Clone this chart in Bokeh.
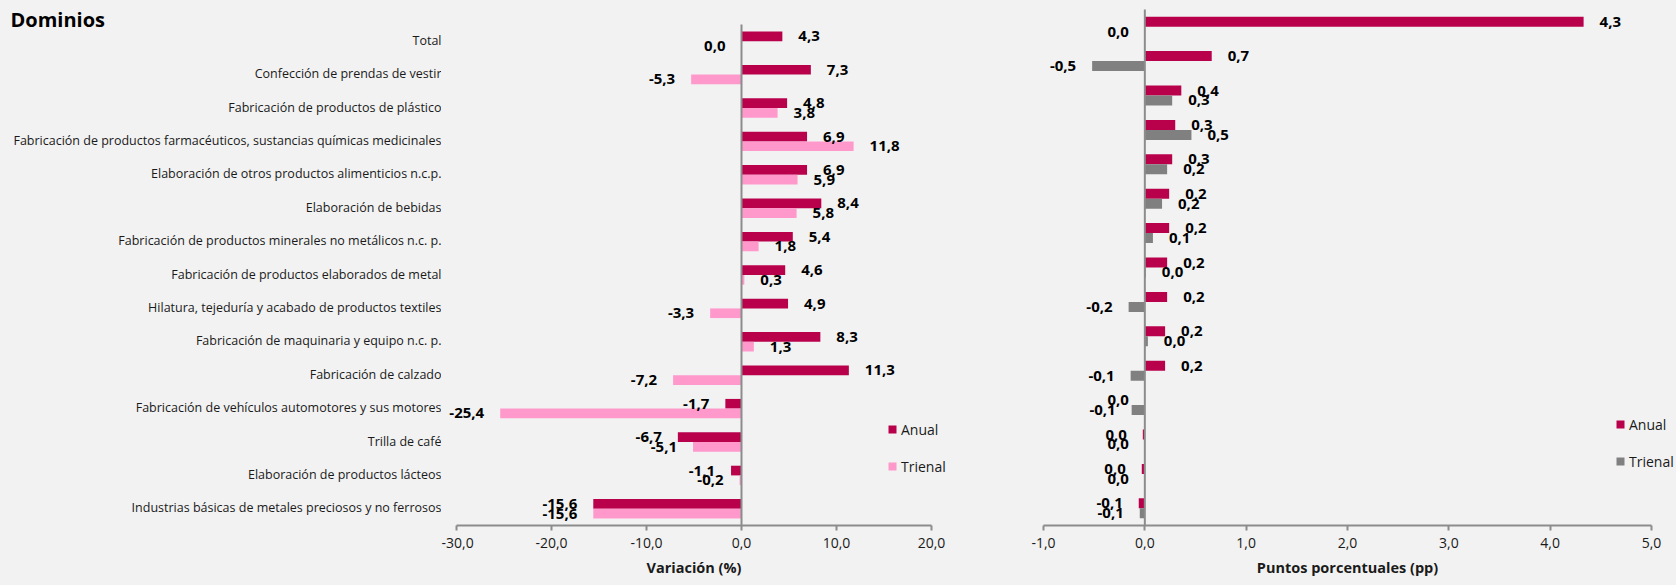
from bokeh.plotting import figure
from bokeh.models import (Range1d, FixedTicker, LabelSet, ColumnDataSource,
                          Legend, LegendItem, Label)
from bokeh.transform import dodge
from bokeh.layouts import row
from bokeh.core.properties import value
from bokeh.embed import file_html
from bokeh.resources import INLINE

TITLE = "Dominios"
categories = [
    "Total",
    "Confección de prendas de vestir",
    "Fabricación de productos de plástico",
    "Fabricación de productos farmacéuticos, sustancias químicas medicinales",
    "Elaboración de otros productos alimenticios n.c.p.",
    "Elaboración de bebidas",
    "Fabricación de productos minerales no metálicos n.c. p.",
    "Fabricación de productos elaborados de metal",
    "Hilatura, tejeduría y acabado de productos textiles",
    "Fabricación de maquinaria y equipo n.c. p.",
    "Fabricación de calzado",
    "Fabricación de vehículos automotores y sus motores",
    "Trilla de café",
    "Elaboración de productos lácteos",
    "Industrias básicas de metales preciosos y no ferrosos",
]
series_names = ["Anual", "Trienal"]
var_anual = [4.3, 7.3, 4.8, 6.9, 6.9, 8.4, 5.4, 4.6, 4.9, 8.3, 11.3, -1.7, -6.7, -1.1, -15.6]
var_trienal = [0.0, -5.3, 3.8, 11.8, 5.9, 5.8, 1.8, 0.3, -3.3, 1.3, -7.2, -25.4, -5.1, -0.2, -15.6]
pp_anual = [4.33, 0.66, 0.36, 0.30, 0.27, 0.24, 0.24, 0.22, 0.22, 0.20, 0.20, 0.0, -0.02, -0.03, -0.06]
pp_trienal = [0.0, -0.52, 0.27, 0.46, 0.22, 0.17, 0.08, 0.01, -0.16, 0.03, -0.14, -0.13, 0.0, 0.0, -0.05]
left_ticks = [-30, -20, -10, 0, 10, 20]
left_tick_labels = ["-30,0", "-20,0", "-10,0", "0,0", "10,0", "20,0"]
right_ticks = [-1, 0, 1, 2, 3, 4, 5]
right_tick_labels = ["-1,0", "0,0", "1,0", "2,0", "3,0", "4,0", "5,0"]
left_xlabel = "Variación (%)"
right_xlabel = "Puntos porcentuales (pp)"

BG = "#F2F2F2"
AXIS_C = "#8C8C8C"
C_ANUAL = "#B8004B"
C_TRI_L = "#FF99CC"
C_TRI_R = "#808080"
FONT = "Open Sans"
FRAME_H = 525          # frame from top of figure down to the x-axis line
BOTTOM = 60
OFF = 0.145
BAR_H = 0.29
N = len(categories)
ypos = [N - 1 - i for i in range(N)]


def fmt(v):
    s = f"{v:.1f}"
    if s == "-0.0":
        s = "0.0"
    return s.replace(".", ",")


def y_range_for(plot_top_px):
    band = (FRAME_H - plot_top_px) / N
    return Range1d(-0.5, -0.5 + FRAME_H / band)


def base_fig(frame_w, mb_left, mb_right, xr, yr):
    p = figure(frame_width=frame_w, frame_height=FRAME_H,
               output_backend="svg", toolbar_location=None,
               x_range=xr, y_range=yr,
               min_border_left=mb_left, min_border_right=mb_right,
               min_border_top=0, min_border_bottom=BOTTOM,
               styles={"background-color": BG})
    p.background_fill_color = BG
    p.border_fill_color = BG
    p.outline_line_color = None
    p.grid.visible = False
    p.yaxis.visible = False
    return p


def build(frame_w, mb_left, mb_right, ticks, tick_labels, xlabel, anual, trienal,
          c_tri, ax_left_px, ax_right_px, plot_top_px, legend_loc, legend_spacing):
    lo, hi = ticks[0], ticks[-1]
    ppu = (ax_right_px - ax_left_px) / (hi - lo)
    xr = Range1d(lo - ax_left_px / ppu, hi + (frame_w - ax_right_px) / ppu)
    p = base_fig(frame_w, mb_left, mb_right, xr, y_range_for(plot_top_px))

    src = ColumnDataSource(dict(y=ypos, cat=categories, a=anual, t=trienal))
    ra = p.hbar(y=dodge("y", OFF), left=0, right="a", height=BAR_H,
                fill_color=C_ANUAL, line_color=None, source=src)
    rt = p.hbar(y=dodge("y", -OFF), left=0, right="t", height=BAR_H,
                fill_color=c_tri, line_color=None, source=src)

    # value-axis line at zero, spanning the category bands
    p.segment(x0=[0], y0=[-0.5], x1=[0], y1=[N - 0.5], line_color=AXIS_C, line_width=2)

    for vals, off in ((anual, OFF), (trienal, -OFF)):
        ls = ColumnDataSource(dict(
            y=ypos, v=vals, txt=[fmt(v) for v in vals],
            xo=[16 if v > 0 else -16 for v in vals],
            al=["left" if v > 0 else "right" for v in vals]))
        p.add_layout(LabelSet(x="v", y=dodge("y", off), text="txt",
                              x_offset="xo", text_align="al", text_baseline="middle",
                              text_font=value(FONT), text_font_style="bold",
                              text_font_size="15px", text_color="#000000", source=ls))

    ax = p.xaxis[0]
    ax.bounds = (lo, hi)
    ax.ticker = FixedTicker(ticks=ticks)
    ax.major_label_overrides = {t: l for t, l in zip(ticks, tick_labels)}
    ax.axis_line_color = AXIS_C
    ax.axis_line_width = 2
    ax.major_tick_line_color = AXIS_C
    ax.major_tick_line_width = 2
    ax.major_tick_out = 5
    ax.major_tick_in = 0
    ax.minor_tick_line_color = None
    ax.major_label_text_font = FONT
    ax.major_label_text_font_size = "14px"
    ax.major_label_text_color = "#1a1a1a"
    ax.major_label_standoff = 7
    ax.axis_label = xlabel
    ax.axis_label_text_font = FONT
    ax.axis_label_text_font_style = "bold"
    ax.axis_label_text_font_size = "14.5px"
    ax.axis_label_text_color = "#1a1a1a"
    ax.axis_label_standoff = 7

    legend = Legend(items=[LegendItem(label=series_names[0], renderers=[ra]),
                           LegendItem(label=series_names[1], renderers=[rt])],
                    location=legend_loc, orientation="vertical",
                    background_fill_alpha=0, border_line_color=None,
                    glyph_width=10, glyph_height=10, label_standoff=4,
                    label_text_font=FONT, label_text_font_size="14px",
                    label_text_color="#1a1a1a", label_height=20,
                    spacing=legend_spacing, padding=0, margin=0)
    p.add_layout(legend)
    return p


# category-label panel (page x 0..441) with the title
labels = base_fig(441, 0, 0, Range1d(0, 1), y_range_for(24))
labels.xaxis.visible = False
cat_src = ColumnDataSource(dict(y=ypos, cat=categories, x=[1] * N))
labels.text(x="x", y="y", text="cat", source=cat_src, x_offset=0, y_offset=-1,
            text_align="right", text_baseline="middle", text_font=value(FONT),
            text_font_size="12.5px", text_color="#1a1a1a")
labels.add_layout(Label(x=10, y=FRAME_H - 19, x_units="screen", y_units="screen", text=TITLE,
                        text_font=FONT, text_font_style="bold", text_font_size="20px",
                        text_baseline="alphabetic", text_color="#000000"))

# left chart: frame page x 441..946, axis -30..20 at frame px 15..490
left = build(505, 0, 72, left_ticks, left_tick_labels, left_xlabel, var_anual, var_trienal,
             C_TRI_L, 15, 490, 24, (446, 49), 17)

# right chart: frame page x 1018..1676, axis -1..5 at frame px 25..633
right = build(658, 0, 0, right_ticks, right_tick_labels, right_xlabel, pp_anual, pp_trienal,
              C_TRI_R, 25, 633, 9, (597, 54), 17)

layout = row(labels, left, right, styles={"background-color": BG})
open("out.html", "w").write(file_html(layout, INLINE))
